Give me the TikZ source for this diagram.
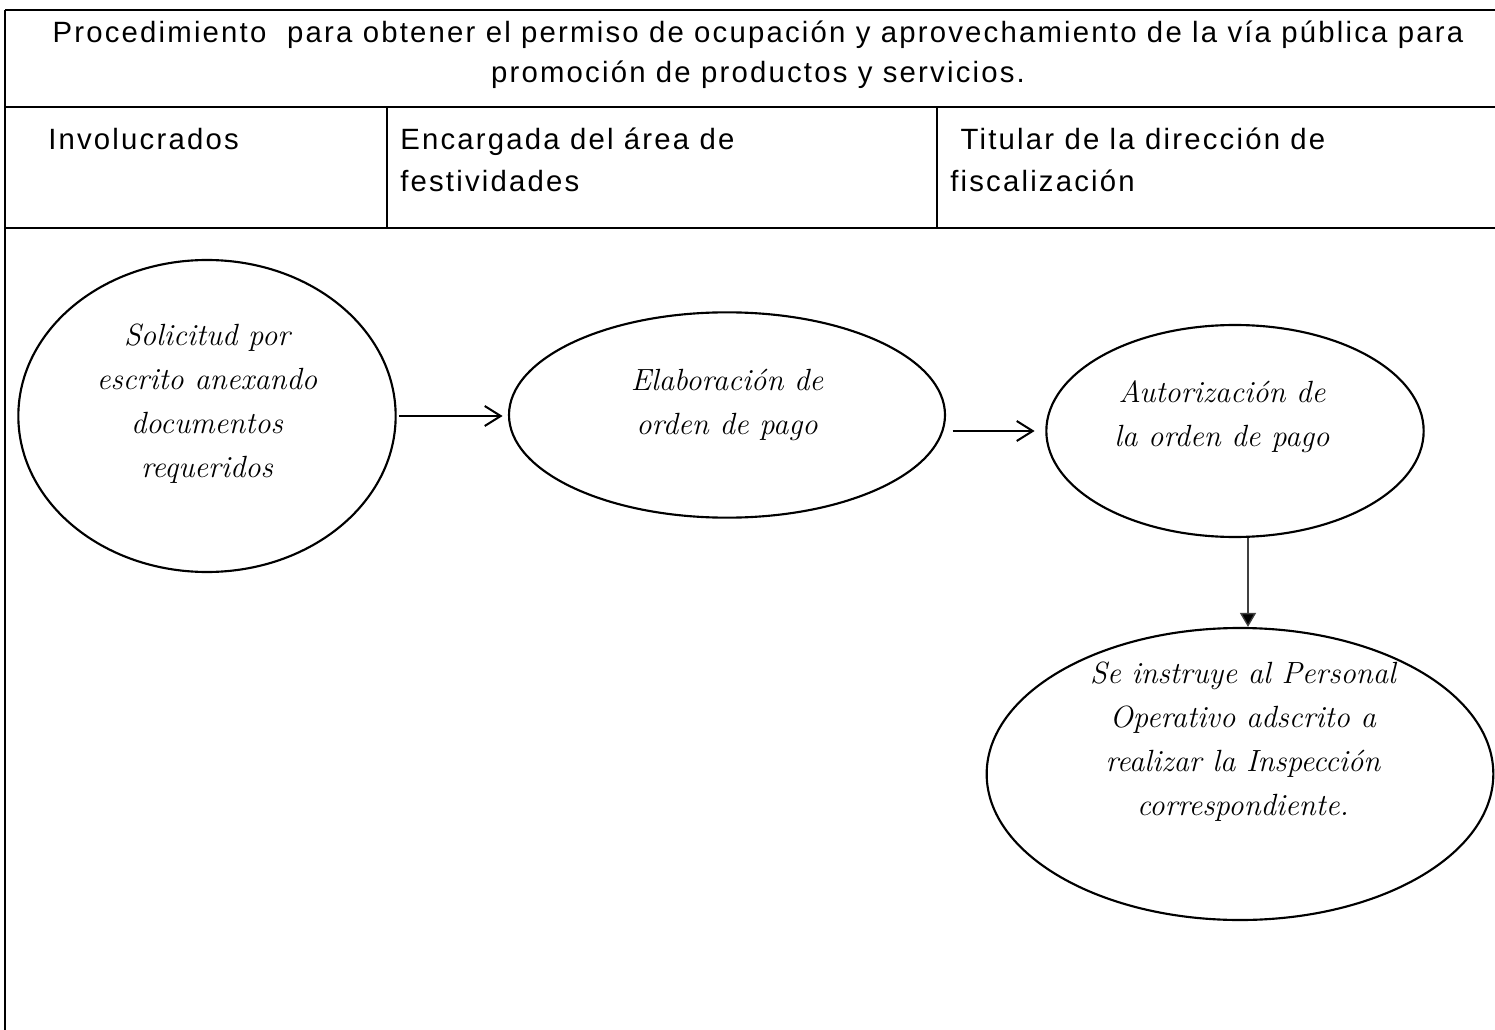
\documentclass[tikz,border=0pt]{standalone}
\usepackage{fontspec}
\usepackage{tikz}
\usetikzlibrary{shapes.geometric,arrows.meta}
\newfontfamily\cabecera[LetterSpace=7.5]{Liberation Sans}
\newcommand{\raya}[2]{\draw [line width=1.5pt] (#1) -- (#2)}

\begin{document}
\begin{tikzpicture}[x=0.75pt,y=-0.75pt,
    celda/.style={anchor=north west,inner sep=0pt,align=left,font=\cabecera\fontsize{22}{31}\selectfont},
    proceso/.style={draw,ellipse,line width=1.6pt,inner sep=0pt},
    texto/.style={align=center,font=\itshape\fontsize{23}{33}\selectfont},
    flecha/.style={-{Straight Barb[length=12pt,width=15pt]},line width=1.5pt},
    baja/.style={-{Triangle[length=10.5pt,width=12pt,fill=black]},line width=1pt,black!75}]
    \useasboundingbox (0,0) rectangle (1495,1030);

    % tabla
    \raya{5,10}{1495,10};
    \raya{5,107}{1495,107};
    \raya{5,228}{1495,228};
    \raya{5,10}{5,1030};
    \draw [line width=1.1pt] (387,107) -- (387,228);
    \draw [line width=1.1pt] (937,107) -- (937,228);

    \node (titulo) [celda,anchor=north,align=center,font=\cabecera\fontsize{22}{29.5}\selectfont] at (758,21)
        {Procedimiento\ \ para obtener el permiso de ocupación y aprovechamiento de la vía pública para\\promoción de productos y servicios.};
    \node (invol) [celda] at (48,128) {Involucrados};
    \node (encarg) [celda] at (400,128) {Encargada del área de\\festividades};
    \node (titular) [celda] at (950,128) {\ Titular de la dirección de\\fiscalización};

    % procesos
    \node (sol) [proceso,minimum width=283pt,minimum height=234pt] at (207,416) {};
    \node (elab) [proceso,minimum width=327pt,minimum height=154pt] at (727,415) {};
    \node (auth) [proceso,minimum width=283pt,minimum height=159pt] at (1235,431) {};
    \node (instr) [proceso,minimum width=380pt,minimum height=219pt] at (1240,774) {};

    \node (soltxt) [texto] at (207,404) {Solicitud por\\escrito anexando\\documentos\\requeridos};
    \node (elabtxt) [texto] at (727,405) {Elaboración de\\orden de pago};
    \node (authtxt) [texto] at (1222,417) {Autorización de\\la orden de pago};
    \node (instrtxt) [texto] at (1243,742) {Se instruye al Personal\\Operativo adscrito a\\realizar la Inspección\\correspondiente.};

    \coordinate (bajada) at (1248,0);
    \draw [flecha,shorten <=2pt,shorten >=4pt] (sol.east) -- (sol.east -| elab.west);
    \draw [flecha,shorten <=5pt,shorten >=8pt] (elab.east |- auth.west) -- (auth.west);
    \draw [baja] (auth.south -| bajada) -- (instr.north -| bajada);
\end{tikzpicture}
\end{document}
